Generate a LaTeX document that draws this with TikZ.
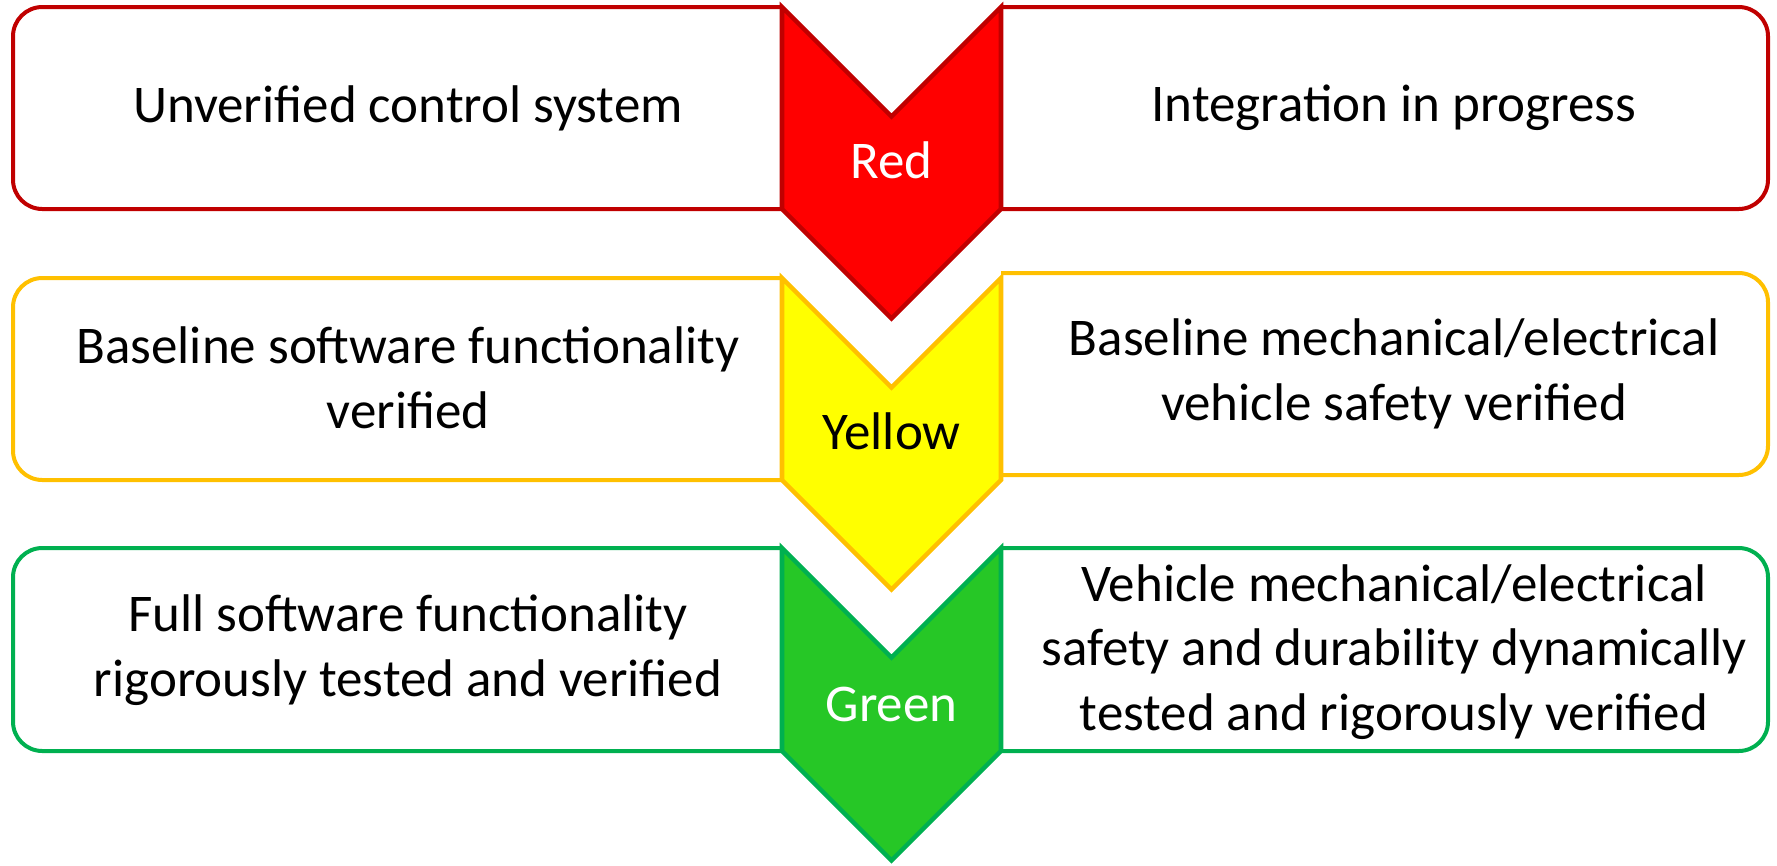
\documentclass[tikz,border=0pt]{standalone}
\usepackage{fontspec}
\setmainfont{Carlito}
\definecolor{redfill}{HTML}{FF0000}
\definecolor{redline}{HTML}{C00000}
\definecolor{yelfill}{HTML}{FFFF00}
\definecolor{yelline}{HTML}{FFC000}
\definecolor{grnfill}{HTML}{26C726}
\definecolor{grnline}{HTML}{00B050}
\begin{document}
\begin{tikzpicture}[x=0.75pt,y=-0.75pt,
  box/.style={line width=3pt, rounded corners=22pt, fill=white},
  chev/.style={line width=3.4pt, line join=miter},
  txt/.style={font=\fontsize{39.75pt}{48.5pt}\selectfont, align=center, inner sep=0pt},
]
\useasboundingbox (0,0) rectangle (1777,865);
% left boxes (clipped at chevron edge)
\begin{scope}
  \clip (0,0) rectangle (782,865);
  \draw[box, draw=redline] (13,7) rectangle (840,209);
  \draw[box, draw=yelline] (13,278) rectangle (840,480);
  \draw[box, draw=grnline] (13,548) rectangle (840,751);
\end{scope}
% right boxes (clipped at chevron edge)
\begin{scope}
  \clip (1001,0) rectangle (1777,865);
  \draw[box, draw=redline] (940,7) rectangle (1768,209);
  \draw[box, draw=yelline] (940,273) rectangle (1768,475);
  \draw[box, draw=grnline] (940,548) rectangle (1768,751);
\end{scope}
% chevrons
\draw[chev, draw=redline, fill=redfill] (782,7) -- (891.5,116.5) -- (1001,7) -- (1001,209) -- (891.5,318.5) -- (782,209) -- cycle;
\draw[chev, draw=yelline, fill=yelfill] (782,278) -- (891.5,387.5) -- (1001,278) -- (1001,480) -- (891.5,589.5) -- (782,480) -- cycle;
\draw[chev, draw=grnline, fill=grnfill] (782,548) -- (891.5,657.5) -- (1001,548) -- (1001,751) -- (891.5,860.5) -- (782,751) -- cycle;
% texts
\node[txt] (rl) at (408,108) {Unverified control system};
\node[txt] (rr) at (1394,108) {Integration in progress};
\node[txt, text=white] (rc) at (891.5,160) {Red};
\node[txt] (yl) at (408,378) {Baseline software functionality\\verified};
\node[txt] (yr) at (1394,374) {Baseline mechanical/electrical\\vehicle safety verified};
\node[txt] (yc) at (891.5,431) {Yellow};
\node[txt] (gl) at (408,650) {Full software functionality\\rigorously tested and verified};
\node[txt] (gr) at (1394,652) {Vehicle mechanical/electrical\\safety and durability dynamically\\tested and rigorously verified};
\node[txt, text=white] (gc) at (891.5,704) {Green};
\end{tikzpicture}
\end{document}
